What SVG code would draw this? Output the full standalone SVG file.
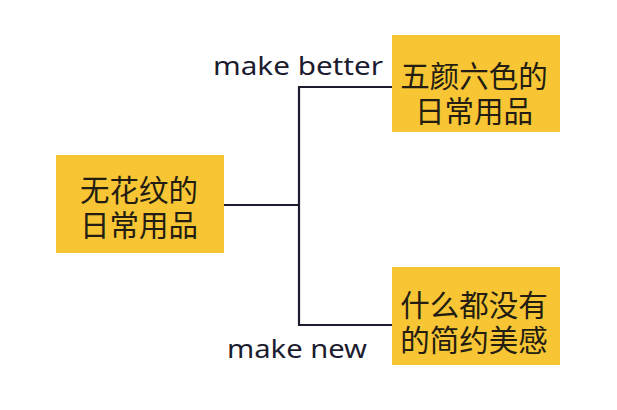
<svg xmlns="http://www.w3.org/2000/svg" width="617" height="410" viewBox="0 0 617 410">
<style>
.box{fill:#F8C535;}
.cjk{font-family:"Noto Sans CJK SC","Noto Sans",sans-serif;font-size:29.5px;fill:#231d12;text-anchor:middle;dominant-baseline:central;}
.lbl{font-family:"Noto Sans","Liberation Sans",sans-serif;font-size:25px;fill:#1c1c30;}
.conn{fill:none;stroke:#1c1c2e;stroke-width:2.2;}
</style>
<rect width="617" height="410" fill="#ffffff"/>
<g id="connectors">
<path class="conn" d="M224,205 H299"/>
<path class="conn" d="M392,87 H299 V325 H392"/>
</g>
<g id="label-better"><text class="lbl" x="213" y="75" textLength="170" lengthAdjust="spacingAndGlyphs">make better</text></g>
<g id="label-new"><text class="lbl" x="227" y="358" textLength="140" lengthAdjust="spacingAndGlyphs">make new</text></g>
<g id="node-left">
<rect class="box" x="56" y="155" width="168" height="98"/>
<text class="cjk"><tspan x="139" y="188">无花纹的</tspan><tspan x="139" y="223">日常用品</tspan></text>
</g>
<g id="node-top">
<rect class="box" x="392" y="35" width="168" height="97"/>
<text class="cjk"><tspan x="474" y="74">五颜六色的</tspan><tspan x="474" y="109">日常用品</tspan></text>
</g>
<g id="node-bottom">
<rect class="box" x="392" y="267" width="168" height="98"/>
<text class="cjk"><tspan x="474" y="303">什么都没有</tspan><tspan x="474" y="338">的简约美感</tspan></text>
</g>
</svg>
